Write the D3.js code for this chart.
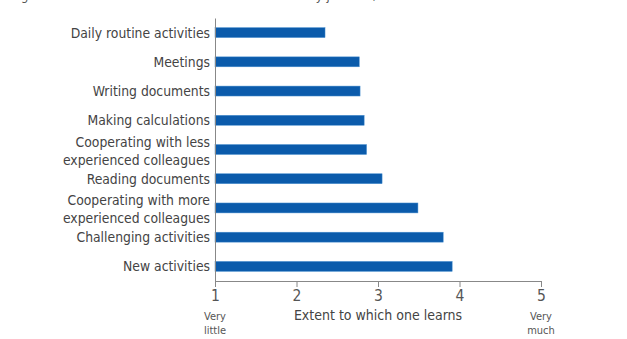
<!DOCTYPE html>
<html>
<head>
<meta charset="utf-8">
<script src="https://cdn.jsdelivr.net/npm/d3@7"></script>
<style>
  body { margin: 0; background: #fff; }
  text { font-family: "Liberation Sans Narrow", "DejaVu Sans Condensed", "Liberation Sans", sans-serif; }
</style>
</head>
<body>
<div id="chart"></div>
<script>
var tasks = [
    ["Daily routine activities"],
    ["Meetings"],
    ["Writing documents"],
    ["Making calculations"],
    ["Cooperating with less", "experienced colleagues"],
    ["Reading documents"],
    ["Cooperating with more", "experienced colleagues"],
    ["Challenging activities"],
    ["New activities"]
];
var values = [2.35, 2.77, 2.78, 2.83, 2.86, 3.05, 3.49, 3.80, 3.91];
var xTicks = [1, 2, 3, 4, 5];
var xTitle = "Extent to which one learns";
var lowLabel = ["Very", "little"];
var highLabel = ["Very", "much"];
var title = "Figure 2. The extent to which workers learn varies by job task, 2010";

var W = 627, H = 339;
var margin = { top: 18, right: 86, bottom: 58, left: 215 };
var width = W - margin.left - margin.right,
    height = H - margin.top - margin.bottom;

var svg = d3.select("#chart")
    .append("svg")
    .attr("width", W)
    .attr("height", H);

// title is cut off at the top of the picture, as in the source
svg.append("text")
    .attr("x", 12)
    .attr("y", -0.5)
    .style("font-size", "13px")
    .style("fill", "#555")
    .text(title);

var g = svg.append("g")
    .attr("transform", "translate(" + margin.left + "," + margin.top + ")");

var x = d3.scaleLinear()
    .domain([1, 5])
    .range([0, width]);

var y = d3.scaleBand()
    .domain(d3.range(tasks.length))
    .range([0, height])
    .paddingInner(0.66)
    .paddingOuter(0.33);

// bars
g.selectAll("rect.bar")
    .data(values)
    .enter()
    .append("rect")
    .attr("class", "bar")
    .attr("x", x(1))
    .attr("y", function (d, i) { return y(i); })
    .attr("width", function (d) { return x(d) - x(1); })
    .attr("height", y.bandwidth())
    .attr("fill", "#0b5bab")
    .attr("stroke", "#4a90d0")
    .attr("stroke-width", 0.5);

// x axis
var xAxis = g.append("g")
    .attr("transform", "translate(0," + height + ")")
    .call(d3.axisBottom(x).tickValues(xTicks).tickSize(6).tickPadding(3).tickFormat(d3.format("d")));
xAxis.select(".domain").attr("stroke", "#888");
xAxis.selectAll(".tick line").attr("stroke", "#888");
xAxis.selectAll(".tick text")
    .style("font-size", "15.5px")
    .style("fill", "#555");

// y axis (line only, labels drawn below)
var yAxis = g.append("g")
    .call(d3.axisLeft(y).tickSize(0).tickFormat(""));
yAxis.select(".domain").attr("stroke", "#888");

var labels = g.selectAll("text.lab")
    .data(tasks)
    .enter()
    .append("text")
    .attr("class", "lab")
    .attr("text-anchor", "end")
    .attr("x", -5)
    .attr("y", function (d, i) {
        var c = y(i) + y.bandwidth() / 2;
        return d.length > 1 ? c - 8 + 5 : c + 5;
    })
    .style("font-size", "13.8px")
    .style("fill", "#444");

labels.selectAll("tspan")
    .data(function (d) { return d; })
    .enter()
    .append("tspan")
    .attr("x", -5)
    .attr("dy", function (d, i) { return i === 0 ? 0 : 18; })
    .text(function (d) { return d; });

// axis title and end labels
g.append("text")
    .attr("x", x(3))
    .attr("y", height + 39)
    .attr("text-anchor", "middle")
    .style("font-size", "14px")
    .style("fill", "#444")
    .text(xTitle);

function endLabel(lines, v) {
    var t = g.append("text")
        .attr("text-anchor", "middle")
        .attr("y", height + 39)
        .style("font-size", "11px")
        .style("fill", "#555");
    t.selectAll("tspan")
        .data(lines)
        .enter()
        .append("tspan")
        .attr("x", x(v))
        .attr("dy", function (d, i) { return i === 0 ? 0 : 14; })
        .text(function (d) { return d; });
}
endLabel(lowLabel, 1);
endLabel(highLabel, 5);
</script>
</body>
</html>
